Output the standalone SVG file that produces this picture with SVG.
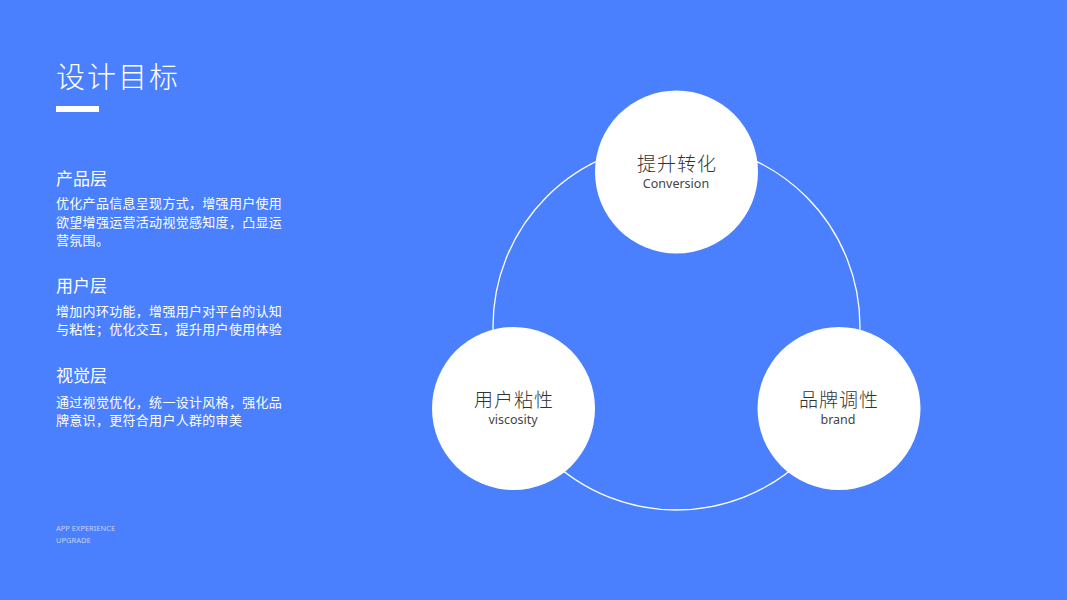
<svg xmlns="http://www.w3.org/2000/svg" width="1067" height="600" viewBox="0 0 1067 600">
<style>
.cjk{font-family:"Noto Sans CJK SC","Noto Sans",sans-serif;fill:#fff}
.h{font-size:17px}
.b{font-size:13px;letter-spacing:0.3px}
.foot{font-family:"Noto Sans","Liberation Sans",sans-serif;font-size:7.5px;fill:#c3d3ff}
.node circle{fill:#fff}
.t1{font-family:"Noto Sans CJK SC","Noto Sans",sans-serif;font-size:19px;font-weight:300;fill:#333;text-anchor:middle;letter-spacing:1px}
.t2{font-family:"Noto Sans","Liberation Sans",sans-serif;font-size:12.5px;fill:#444;text-anchor:middle}
</style>
<rect width="1067" height="600" fill="#4a80fe"/>
<text class="cjk" x="56" y="88" font-size="29" font-weight="300" letter-spacing="2">设计目标</text>
<rect x="56" y="106" width="43" height="6" fill="#fff"/>
<text class="cjk h" x="56" y="185">产品层</text>
<text class="cjk b" x="56" y="208">优化产品信息呈现方式，增强用户使用</text>
<text class="cjk b" x="56" y="227">欲望增强运营活动视觉感知度，凸显运</text>
<text class="cjk b" x="56" y="245">营氛围。</text>
<text class="cjk h" x="56" y="292">用户层</text>
<text class="cjk b" x="56" y="316">增加内环功能，增强用户对平台的认知</text>
<text class="cjk b" x="56" y="334">与粘性；优化交互，提升用户使用体验</text>
<text class="cjk h" x="56" y="382">视觉层</text>
<text class="cjk b" x="56" y="407">通过视觉优化，统一设计风格，强化品</text>
<text class="cjk b" x="56" y="425">牌意识，更符合用户人群的审美</text>
<text class="foot" x="56" y="531">APP EXPERIENCE</text>
<text class="foot" x="56" y="543">UPGRADE</text>
<g id="connectors">
<circle cx="676.5" cy="326.5" r="183.5" fill="none" stroke="#fff" stroke-width="1.3"/>
</g>
<g id="node-conversion" class="node">
<circle cx="676.5" cy="172" r="81.5"/>
<text class="t1" x="677" y="171">提升转化</text>
<text class="t2" x="676" y="188">Conversion</text>
</g>
<g id="node-viscosity" class="node">
<circle cx="513.5" cy="408.5" r="81.5"/>
<text class="t1" x="514" y="407">用户粘性</text>
<text class="t2" x="513" y="424">viscosity</text>
</g>
<g id="node-brand" class="node">
<circle cx="839" cy="408.5" r="81.5"/>
<text class="t1" x="839" y="407">品牌调性</text>
<text class="t2" x="838" y="424">brand</text>
</g>
</svg>
